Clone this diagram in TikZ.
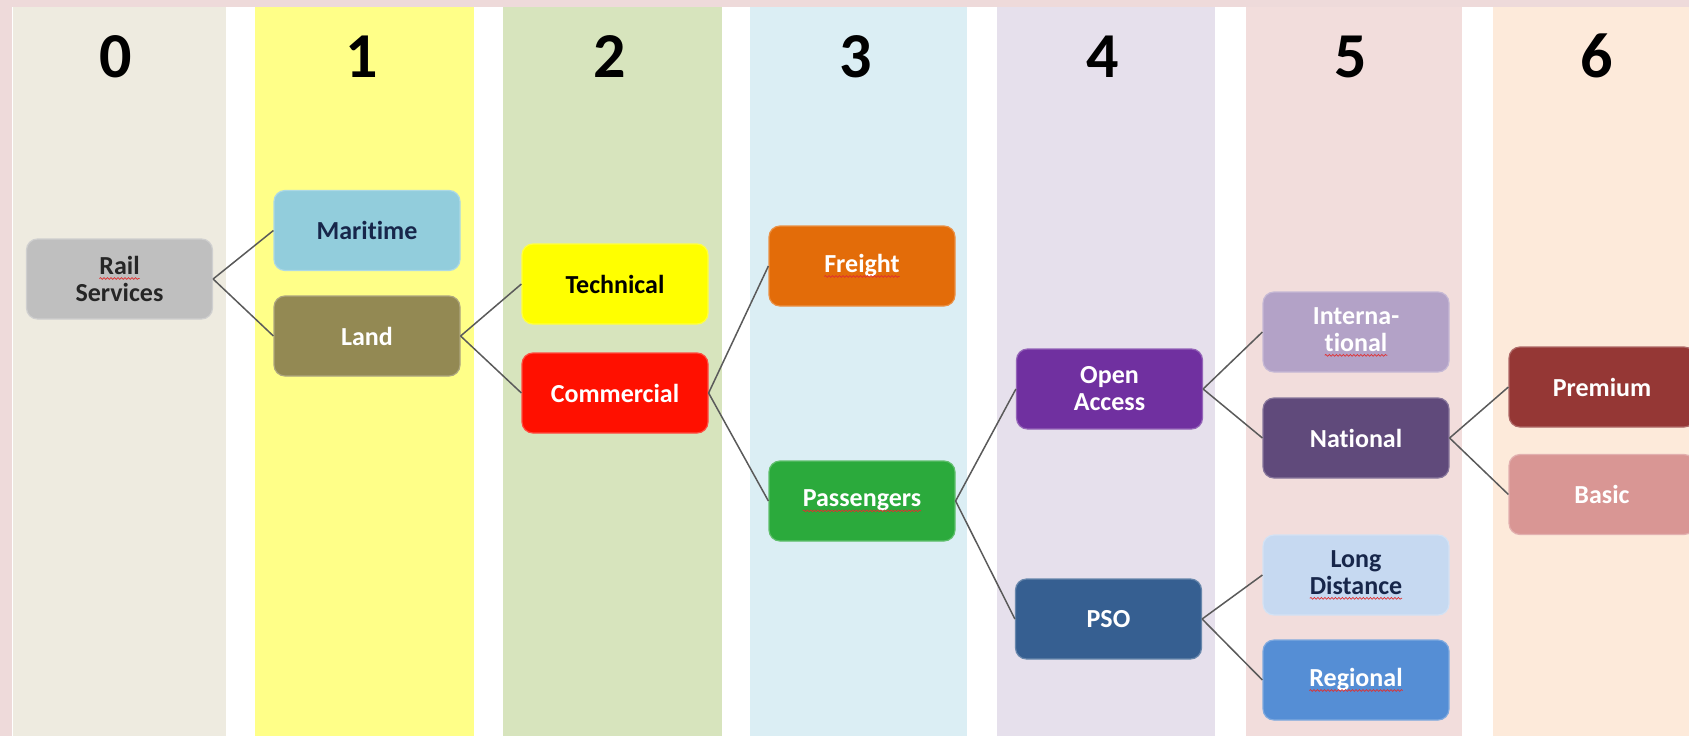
\documentclass[tikz,border=0pt]{standalone}
\usepackage{fontspec}
\setmainfont{Carlito}[Ligatures=CommonOff]
\usetikzlibrary{decorations.pathmorphing}
\definecolor{spellred}{HTML}{E03030}
\tikzset{plainword/.style={inner sep=0pt, outer sep=0pt, minimum width=0pt, minimum height=0pt,
    sharp corners, draw=none, fill=none, align=left}}
\newcommand\spw[1]{\tikz[baseline=(sw.base),x=1pt,y=1pt,sharp corners]{\node[plainword] (sw) {#1};
  \draw[spellred,line width=0.7pt,sharp corners,decorate,decoration={snake,amplitude=0.9pt,segment length=3.5pt}] ([yshift=-4pt]sw.base west) -- ([yshift=-4pt]sw.base east);}}
\definecolor{outerpink}{HTML}{EEDADA}
\definecolor{colA}{HTML}{EEEBE0}
\definecolor{colB}{HTML}{FFFF88}
\definecolor{colC}{HTML}{D7E4BD}
\definecolor{colD}{HTML}{DBEEF4}
\definecolor{colE}{HTML}{E6E0EC}
\definecolor{colF}{HTML}{F2DDDC}
\definecolor{colG}{HTML}{FDEADA}
\definecolor{linkgray}{HTML}{5A5A5A}
\definecolor{cRail}{HTML}{BFBFBF}
\definecolor{cMar}{HTML}{92CDDC}
\definecolor{cLand}{HTML}{938953}
\definecolor{cTech}{HTML}{FFFF00}
\definecolor{cComm}{HTML}{FF1000}
\definecolor{cFrei}{HTML}{E36C09}
\definecolor{cPass}{HTML}{2BAA3C}
\definecolor{cOpen}{HTML}{7030A0}
\definecolor{cPso}{HTML}{365F91}
\definecolor{cIntl}{HTML}{B3A2C7}
\definecolor{cNat}{HTML}{604A7B}
\definecolor{cLong}{HTML}{C6D9F1}
\definecolor{cReg}{HTML}{558ED5}
\definecolor{cPrem}{HTML}{953735}
\definecolor{cBasic}{HTML}{D99694}
\definecolor{navy}{HTML}{17264A}
\tikzset{
  box/.style={rounded corners=11pt, minimum width=186pt, minimum height=80pt,
    align=center, font=\fontsize{26}{27}\selectfont\bfseries, inner sep=2pt,
    line width=1.2pt, fill=#1, draw=#1!75!white, text=white},
  link/.style={draw=linkgray, line width=1.5pt},
  head/.style={font=\fontsize{64}{64}\selectfont\bfseries, anchor=base, text=black},
  column/.style={fill=#1, draw=none},
}
\begin{document}
\begin{tikzpicture}[x=1pt,y=-1pt]
\useasboundingbox (0,0) rectangle (1689,736);
\clip (0,0) rectangle (1689,736);
\fill[outerpink] (0,0) rectangle (1689,736);
\fill[white] (12,7) rectangle (1689,736);
% columns
\fill[column=colA] (13,7) rectangle (226,736);
\fill[column=colB] (255,7) rectangle (474,736);
\fill[column=colC] (503,7) rectangle (722,736);
\fill[column=colD] (750,7) rectangle (967,736);
\fill[column=colE] (997,7) rectangle (1215,736);
\fill[column=colF] (1246,7) rectangle (1462,736);
\fill[column=colG] (1493,7) rectangle (1712,736);
% headings
\node[head] (h0) at (116,77) {0};
\node[head] (h1) at (362,77) {1};
\node[head] (h2) at (610,77) {2};
\node[head] (h3) at (856,77) {3};
\node[head] (h4) at (1103,77) {4};
\node[head] (h5) at (1351,77) {5};
\node[head] (h6) at (1597,77) {6};
% boxes
\node[box=cRail, text=black!85] (rail) at (119.5,279) {\spw{Rail}\\Services};
\node[box=cMar, text=navy] (mar) at (367,230.5) {Maritime};
\node[box=cLand] (land) at (367,336) {Land};
\node[box=cTech, text=black] (tech) at (615,284) {Technical};
\node[box=cComm] (comm) at (615,393) {Commercial};
\node[box=cFrei] (frei) at (862,266) {\spw{Freight}};
\node[box=cPass] (pass) at (862,501) {\spw{Passengers}};
\node[box=cOpen] (open) at (1109.5,389) {Open\\Access};
\node[box=cPso] (pso) at (1108.5,619) {PSO};
\node[box=cIntl] (intl) at (1356,332) {Interna-\\\spw{tional}};
\node[box=cNat] (nat) at (1356,438) {National};
\node[box=cLong, text=navy] (long) at (1356,575) {Long\\\spw{Distance}};
\node[box=cReg] (reg) at (1356,680) {\spw{Regional}};
\node[box=cPrem] (prem) at (1602,387) {Premium};
\node[box=cBasic] (basic) at (1602,494.5) {Basic};
% links
\draw[link] (rail.east) -- (mar.west);
\draw[link] (rail.east) -- (land.west);
\draw[link] (land.east) -- (tech.west);
\draw[link] (land.east) -- (comm.west);
\draw[link] (comm.east) -- (frei.west);
\draw[link] (comm.east) -- (pass.west);
\draw[link] (pass.east) -- (open.west);
\draw[link] (pass.east) -- (pso.west);
\draw[link] (open.east) -- (intl.west);
\draw[link] (open.east) -- (nat.west);
\draw[link] (pso.east) -- (long.west);
\draw[link] (pso.east) -- (reg.west);
\draw[link] (nat.east) -- (prem.west);
\draw[link] (nat.east) -- (basic.west);
\end{tikzpicture}
\end{document}
